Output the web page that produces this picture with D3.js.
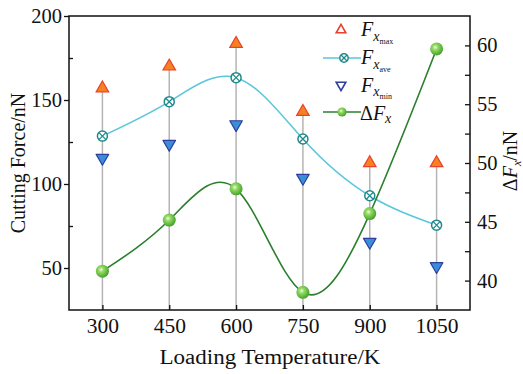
<!DOCTYPE html>
<html>
<head>
<meta charset="utf-8">
<script src="https://cdn.jsdelivr.net/npm/d3@7"></script>
<style>
  body { margin: 0; background: #fff; }
  text { font-family: "Liberation Serif", "Times New Roman", serif; fill: #111; }
</style>
</head>
<body>
<div id="chart"></div>
<script>
// data
const temps = [300, 450, 600, 750, 900, 1050];
const fMax = [157, 170, 183.5, 143, 112.5, 112.5];
const fAve = [128.5, 149, 163.3, 126.8, 93, 75.5];
const fMin = [115.5, 123.8, 135.5, 103.6, 65.5, 51];
const deltaF = [40.8, 45.15, 47.8, 39.0, 45.7, 59.7];

const leftTicks = [50, 100, 150, 200];
const leftMinor = [75, 125, 175];
const rightTicks = [40, 45, 50, 55, 60];
const rightMinor = [42.5, 47.5, 52.5, 57.5];

const width = 523, height = 374;
const margin = { top: 16, right: 53, bottom: 64, left: 69 };
const serif = '"Liberation Serif", "Times New Roman", serif';

const svg = d3.select('#chart').append('svg')
    .attr('width', width)
    .attr('height', height);

const x = d3.scaleLinear([225, 1125], [margin.left, width - margin.right]);
const yL = d3.scaleLinear([25, 200], [height - margin.bottom, margin.top]);
const yR = d3.scaleLinear([37.5, 62.5], [height - margin.bottom, margin.top]);

const defs = svg.append('defs');
const grad = defs.append('radialGradient')
    .attr('id', 'ball')
    .attr('cx', '40%').attr('cy', '38%').attr('r', '62%');
grad.append('stop').attr('offset', '0%').attr('stop-color', '#eefbe4');
grad.append('stop').attr('offset', '30%').attr('stop-color', '#97dc66');
grad.append('stop').attr('offset', '100%').attr('stop-color', '#44a22b');

const bottom = height - margin.bottom;

// drop lines from the max marker to the axis
svg.append('g').selectAll('line')
    .data(temps)
    .join('line')
    .attr('x1', d => x(d)).attr('x2', d => x(d))
    .attr('y1', (d, i) => yL(fMax[i]))
    .attr('y2', bottom)
    .attr('stroke', '#b4b4b4')
    .attr('stroke-width', 1.5);

// smooth curves
const aveLine = d3.line()
    .x((d, i) => x(temps[i]))
    .y(d => yL(d))
    .curve(d3.curveNatural);
svg.append('path')
    .attr('d', aveLine(fAve))
    .attr('fill', 'none')
    .attr('stroke', '#5cc6dc')
    .attr('stroke-width', 1.6);

const deltaLine = d3.line()
    .x((d, i) => x(temps[i]))
    .y(d => yR(d))
    .curve(d3.curveNatural);
svg.append('path')
    .attr('d', deltaLine(deltaF))
    .attr('fill', 'none')
    .attr('stroke', '#2b7f2e')
    .attr('stroke-width', 1.6);

// markers
const triUp = d3.symbol(d3.symbolTriangle, 68);
const triSmall = d3.symbol(d3.symbolTriangle, 40);

function drawMax(g, cx, cy) {
    g.append('path').attr('d', triUp())
        .attr('transform', `translate(${cx},${cy})`)
        .attr('fill', '#f6821f')
        .attr('stroke', '#e8412c')
        .attr('stroke-width', 1.2);
}
function drawMin(g, cx, cy) {
    g.append('path').attr('d', triUp())
        .attr('transform', `translate(${cx},${cy}) rotate(180)`)
        .attr('fill', '#3a8ed8')
        .attr('stroke', '#2c3f9e')
        .attr('stroke-width', 1.2)
        .attr('stroke-linejoin', 'round');
}
function drawAve(g, cx, cy, r) {
    const k = r * 0.7;
    const m = g.append('g').attr('transform', `translate(${cx},${cy})`);
    m.append('circle').attr('r', r).attr('fill', '#fff')
        .attr('stroke', '#1f8a8c').attr('stroke-width', 1.5);
    m.append('path').attr('d', `M${-k},${-k}L${k},${k}M${-k},${k}L${k},${-k}`)
        .attr('stroke', '#1f8a8c').attr('stroke-width', 1.3);
}
function drawBall(g, cx, cy, r) {
    g.append('circle').attr('cx', cx).attr('cy', cy).attr('r', r)
        .attr('fill', 'url(#ball)');
}

const marks = svg.append('g');
temps.forEach((t, i) => drawMax(marks, x(t), yL(fMax[i])));
temps.forEach((t, i) => drawMin(marks, x(t), yL(fMin[i])));
temps.forEach((t, i) => drawAve(marks, x(t), yL(fAve[i]), 5));
temps.forEach((t, i) => drawBall(marks, x(t), yR(deltaF[i]), 6.5));

// frame
svg.append('rect')
    .attr('x', margin.left).attr('y', margin.top)
    .attr('width', width - margin.left - margin.right)
    .attr('height', height - margin.top - margin.bottom)
    .attr('fill', 'none')
    .attr('stroke', '#111')
    .attr('stroke-width', 1.5);

// axes
const rx = width - margin.right;
const axes = [];
axes.push(svg.append('g').attr('transform', `translate(${margin.left},0)`)
    .call(d3.axisLeft(yL).tickValues(leftTicks).tickSize(5).tickPadding(2)));
axes.push(svg.append('g').attr('transform', `translate(${margin.left},0)`)
    .call(d3.axisRight(yL).tickValues(leftMinor).tickSize(4).tickFormat('')));
axes.push(svg.append('g').attr('transform', `translate(0,${bottom})`)
    .call(d3.axisTop(x).tickValues(temps).tickSize(5).tickFormat('')));
const bAxis = svg.append('g').attr('transform', `translate(0,${bottom})`)
    .call(d3.axisBottom(x).tickValues(temps).tickSize(0).tickPadding(8).tickFormat(d3.format('d')));
axes.push(bAxis);
axes.push(svg.append('g').attr('transform', `translate(${rx},0)`)
    .call(d3.axisLeft(yR).tickValues(rightTicks.concat(rightMinor)).tickSize(5).tickFormat('')));
axes.push(svg.append('g').attr('transform', `translate(${rx},0)`)
    .call(d3.axisRight(yR).tickValues(rightTicks).tickSize(0).tickPadding(7)));

axes.forEach(a => a.attr('font-family', serif).attr('font-size', 20.5));
bAxis.attr('font-size', 21.5);
svg.selectAll('.domain').remove();
svg.selectAll('.tick line').attr('stroke', '#111').attr('stroke-width', 1.3);
svg.selectAll('.tick text').attr('fill', '#111');

// axis titles
svg.append('text')
    .attr('x', (margin.left + rx) / 2 + 0.5)
    .attr('y', 364)
    .attr('text-anchor', 'middle')
    .attr('textLength', 221)
    .attr('lengthAdjust', 'spacingAndGlyphs')
    .style('font-size', '20.5px')
    .text('Loading Temperature/K');

svg.append('text')
    .attr('transform', `translate(25,${(margin.top + bottom) / 2}) rotate(-90)`)
    .attr('text-anchor', 'middle')
    .style('font-size', '20px')
    .text('Cutting Force/nN');

const rt = svg.append('text')
    .attr('transform', `translate(517,${(margin.top + bottom) / 2 - 2}) rotate(-90)`)
    .attr('text-anchor', 'middle')
    .style('font-size', '20px');
rt.append('tspan').text('\u0394');
rt.append('tspan').style('font-style', 'italic').text('F');
rt.append('tspan').style('font-style', 'italic').style('font-size', '12px').attr('dy', 4).text('x');
rt.append('tspan').attr('dy', -4).text('/nN');

// legend
const legend = svg.append('g');
const lx = 341, x0 = 323, x1 = 361;
const rows = [
    { y: 30, base: 36, sub: 'max', draw: (g, cy) => g.append('path').attr('d', triSmall())
        .attr('transform', `translate(${lx},${cy})`).attr('fill', 'none')
        .attr('stroke', '#e8412c').attr('stroke-width', 1.6) },
    { y: 58, base: 64, sub: 'ave', draw: (g, cy) => {
        g.append('line').attr('x1', x0).attr('x2', x1).attr('y1', cy).attr('y2', cy)
            .attr('stroke', '#5cc6dc').attr('stroke-width', 1.6);
        drawAve(g, lx + 3, cy, 4.2);
    } },
    { y: 85, base: 91.5, sub: 'min', draw: (g, cy) => g.append('path').attr('d', triSmall())
        .attr('transform', `translate(${lx},${cy}) rotate(180)`).attr('fill', 'none')
        .attr('stroke', '#2c3f9e').attr('stroke-width', 1.6) },
    { y: 112, base: 119.5, sub: null, draw: (g, cy) => {
        g.append('line').attr('x1', x0).attr('x2', x1).attr('y1', cy).attr('y2', cy)
            .attr('stroke', '#2b7f2e').attr('stroke-width', 1.6);
        drawBall(g, lx + 1, cy, 4.6);
    } }
];
rows.forEach(r => {
    r.draw(legend, r.y);
    const t = legend.append('text').attr('x', r.sub ? 361 : 360).attr('y', r.base)
        .style('font-size', '20px');
    if (!r.sub) t.append('tspan').text('\u0394');
    t.append('tspan').style('font-style', 'italic').text('F');
    t.append('tspan').style('font-style', 'italic').style('font-size', '14px').attr('dy', r.sub ? 4.5 : 3).text('x');
    if (r.sub) t.append('tspan').style('font-size', '8px').attr('dy', 3).text(r.sub);
});
</script>
</body>
</html>
